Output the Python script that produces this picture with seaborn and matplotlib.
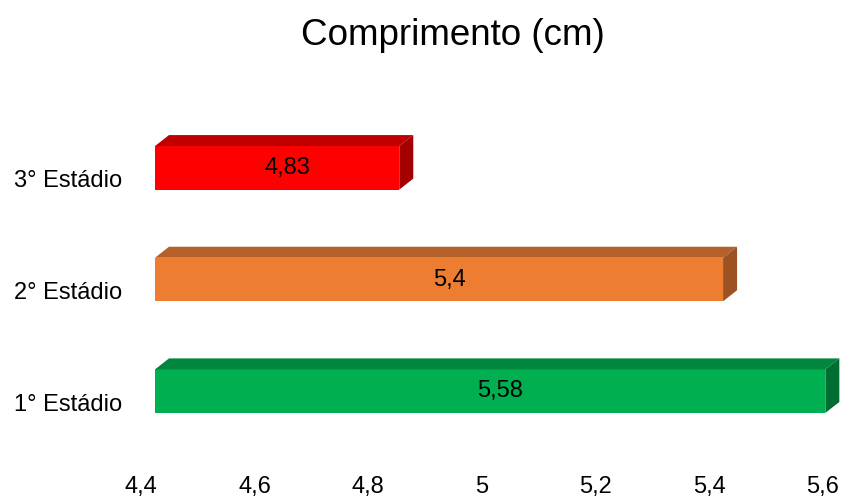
import numpy as np
import pandas as pd
import seaborn as sns
import matplotlib.pyplot as plt
from matplotlib.patches import Polygon
from matplotlib.transforms import ScaledTranslation

# data (top to bottom)
stages = ["3° Estádio", "2° Estádio", "1° Estádio"]
lengths = [4.83, 5.4, 5.58]
front_colors = ["#FF0000", "#ED7D31", "#00B050"]
top_colors = ["#C00000", "#B4602A", "#00873D"]
side_colors = ["#A50000", "#9C5222", "#006E30"]
ticks = [4.4, 4.6, 4.8, 5.0, 5.2, 5.4, 5.6]

df = pd.DataFrame({"stage": stages, "length": lengths})

sns.set_style("white")
plt.rcParams["font.family"] = ["Liberation Sans", "DejaVu Sans"]
plt.rcParams["text.color"] = "black"
plt.rcParams["xtick.color"] = "black"
plt.rcParams["ytick.color"] = "black"

fig = plt.figure(figsize=(8.46, 4.97), dpi=100)
ax = fig.add_axes([0.1832, 0.1006, 0.8058, 0.674])

sns.barplot(data=df, x="length", y="stage", hue="stage", palette=front_colors,
            orient="h", width=0.39, legend=False, ax=ax, saturation=1, linewidth=0)

fs = 17
ax.set_xlim(4.4, 5.6)
ax.set_ylim(2.5, -0.5)
ax.set_xticks(ticks)
ax.set_xticklabels([f"{t:g}".replace(".", ",") for t in ticks], fontsize=fs)
ax.tick_params(axis="x", length=0, pad=21)
ax.tick_params(axis="y", length=0, pad=24, labelsize=fs)
ax.set_xlabel("")
ax.set_ylabel("")
for s in ax.spines.values():
    s.set_visible(False)

# shift tick labels like the 3d floor in the original
shift = ScaledTranslation(-14 / 100, 0, fig.dpi_scale_trans)
for lab in ax.get_xticklabels():
    lab.set_transform(lab.get_transform() + shift)
yshift = ScaledTranslation(0, -11 / 100, fig.dpi_scale_trans)
for lab in ax.get_yticklabels():
    lab.set_transform(lab.get_transform() + yshift)

# 3d faces, depth in pixels
dx, dy = 14, 11
fig.canvas.draw()
for i, bar in enumerate(ax.patches):
    val = lengths[i]
    y0 = bar.get_y()
    y1 = y0 + bar.get_height()
    (xl, ytop) = ax.transData.transform((4.4, y0))
    (xr, ybot) = ax.transData.transform((val, y1))
    top = Polygon([(xl, ytop), (xr, ytop), (xr + dx, ytop + dy), (xl + dx, ytop + dy)],
                  closed=True, transform=None, facecolor=top_colors[i],
                  edgecolor="none", clip_on=False)
    side = Polygon([(xr, ytop), (xr + dx, ytop + dy), (xr + dx, ybot + dy), (xr, ybot)],
                   closed=True, transform=None, facecolor=side_colors[i],
                   edgecolor="none", clip_on=False)
    fig.add_artist(top)
    fig.add_artist(side)
    ax.text((4.4 + val) / 2, (y0 + y1) / 2, f"{val:g}".replace(".", ","),
            ha="center", va="center", fontsize=fs,
            transform=ax.transData + ScaledTranslation(10 / 100, 0, fig.dpi_scale_trans))

fig.text(0.535, 0.928, "Comprimento (cm)", ha="center", va="center", fontsize=26.5)

fig.savefig("out.png", dpi=100)
